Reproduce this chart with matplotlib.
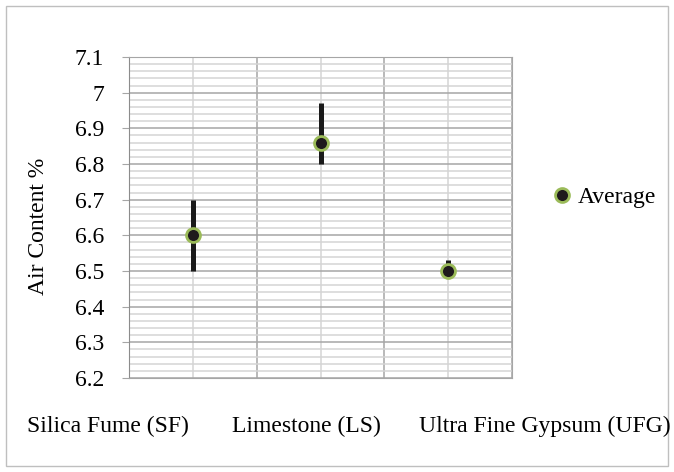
import matplotlib.pyplot as plt
from matplotlib.ticker import MultipleLocator, FixedLocator
from matplotlib.patches import Rectangle

categories = ["Silica Fume (SF)", "Limestone (LS)", "Ultra Fine Gypsum (UFG)"]
average = [6.60, 6.86, 6.50]
lower = [6.50, 6.80, 6.48]
upper = [6.70, 6.97, 6.53]
y_ticks = [6.2, 6.3, 6.4, 6.5, 6.6, 6.7, 6.8, 6.9, 7.0, 7.1]
y_labels = ["6.2", "6.3", "6.4", "6.5", "6.6", "6.7", "6.8", "6.9", "7", "7.1"]

plt.rcParams['font.family'] = ['Liberation Serif', 'DejaVu Serif']
FS = 17

fig = plt.figure(figsize=(6.74, 4.72), dpi=100)
W, H = 674, 472
# plot area in pixels: left 129, right 512, top 57, bottom 378
ax = fig.add_axes([129 / W, 1 - 378 / H, 383 / W, 321 / H])

x = list(range(1, len(categories) + 1))
err_lo = [a - l for a, l in zip(average, lower)]
err_hi = [u - a for a, u in zip(average, upper)]

ax.errorbar(x, average, yerr=[err_lo, err_hi], fmt='none', ecolor='#1a1a1a',
            elinewidth=3.6, capsize=0, zorder=3)
ax.plot(x, average, 'o', markersize=10, markerfacecolor='#1f1a1c',
        markeredgecolor='#9BBB59', markeredgewidth=2, linestyle='none',
        label='Average', zorder=4)

ax.set_xlim(0.5, 3.5)
ax.set_ylim(6.2, 7.1)
ax.set_yticks(y_ticks)
ax.set_yticklabels(y_labels)
ax.yaxis.set_minor_locator(MultipleLocator(0.02))
ax.xaxis.set_major_locator(FixedLocator([0.5, 1.5, 2.5, 3.5]))
ax.xaxis.set_minor_locator(FixedLocator(x))
ax.set_xticklabels([])

ax.grid(which='major', color='#a6a6a6', linewidth=1.1, zorder=0)
ax.grid(which='minor', color='#d4d4d4', linewidth=1.1, zorder=0)
ax.set_axisbelow(True)

ax.tick_params(axis='y', which='major', length=5, color='#a6a6a6', labelsize=FS, pad=13)
ax.tick_params(axis='y', which='minor', length=0)
ax.tick_params(axis='x', which='both', length=0)

for side in ['top', 'right', 'bottom']:
    ax.spines[side].set_color('#a6a6a6')
ax.spines['left'].set_color('#8c8c8c')

# category labels as they sit in the reference (shifted left of the categories)
label_left = [27, 232, 419]
for lab, px in zip(categories, label_left):
    fig.text(px / W, 1 - 426 / H, lab, fontsize=FS, ha='left', va='center')

fig.text(39 / W, 1 - 226 / H, 'Air Content %', fontsize=FS, rotation=90,
         ha='center', va='center')

fig.legend(loc='center left', bbox_to_anchor=(548 / W, 1 - 197 / H), frameon=False,
           fontsize=FS, handletextpad=0.05, borderaxespad=0, borderpad=0,
           handlelength=1.2)

fig.patches.append(Rectangle((6 / W, 6 / H), 662 / W, 460 / H, transform=fig.transFigure,
                             fill=False, edgecolor='#bfbfbf', linewidth=1))

fig.savefig('out.png', dpi=100)
